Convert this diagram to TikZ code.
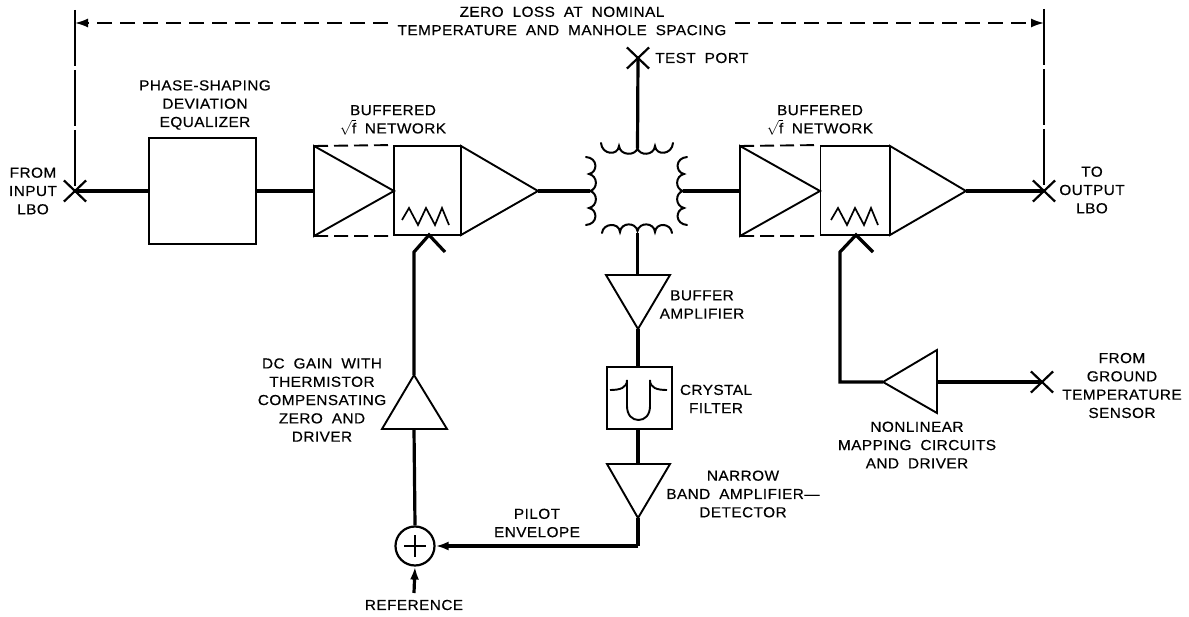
\documentclass[tikz,border=0pt]{standalone}
\usepackage{fontspec}
\setmainfont{Liberation Sans}[FakeStretch=1.06,LetterSpace=3,WordSpace=1.9,FakeBold=0.35]
\usetikzlibrary{arrows.meta,shapes.misc}
\tikzset{
  thinline/.style={line width=1.9pt,line join=miter},
  wire/.style={line width=3.2pt},
  dim/.style={line width=1.8pt,dash pattern=on 15pt off 8pt},
  ext/.style={line width=1.8pt,dash pattern=on 56pt off 4pt},
  blockbox/.style={draw,line width=1.9pt,rectangle,inner sep=0pt},
  xport/.style={draw,cross out,line width=2.2pt,minimum width=20pt,minimum height=19pt,inner sep=0pt},
  lbl/.style={font=\fontsize{14.5}{18.3}\selectfont,align=center,inner sep=0pt},
  tip/.style={-{Latex[length=13pt,width=9pt]}},
  coil/.style={line width=2pt,line cap=round}
}
\newcommand{\ampl}[3]{\draw[thinline] (#1) -- (#2) -- (#3) -- cycle;}
\newcommand{\zigzag}[2]{\draw[line width=1.7pt] (#1,#2) ++(0,-5) -- ++(7,-12) -- ++(9,17) -- ++(8,-17) -- ++(9,17) -- ++(7,-17) -- ++(7,17);}
\begin{document}
\begin{tikzpicture}[x=1pt,y=-1pt]
\useasboundingbox (0,0) rectangle (1189,617);
% ports
\node[xport] (xin) at (75,191) {};
\node[xport] (xout) at (1044,191) {};
\node[xport] (xtest) at (638,58) {};
\node[xport] (xtemp) at (1042,382) {};
% extension lines
\coordinate (extL) at (75,10);
\coordinate (extR) at (1044,9);
\coordinate (dimL) at (75,23);
\coordinate (dimR) at (1044,23);
\coordinate (dimLs) at (388,23);
\coordinate (dimRs) at (735,23);
\draw[ext] (extL) -- (xin.center);
\draw[ext] (extR) -- (xout.center);
\draw[dim,tip] (dimLs) -- (dimL);
\draw[dim,tip] (dimRs) -- (dimR);
% equalizer
\node[blockbox,minimum width=107pt,minimum height=106pt] (eq) at (202.5,191) {};
% left network
\coordinate (a1n) at (314,146); \coordinate (a1s) at (314,236); \coordinate (a1t) at (394,191);
\node[blockbox,minimum width=67pt,minimum height=89pt] (n1) at (427.5,190.5) {};
\coordinate (a2n) at (461,146); \coordinate (a2s) at (461,235); \coordinate (a2t) at (538,191);
\ampl{a1n}{a1s}{a1t}
\ampl{a2n}{a2t}{a2s}
\draw[thinline,dash pattern=on 14pt off 6pt] (a1n) -- (n1.north west);
\draw[thinline,dash pattern=on 14pt off 6pt] (a1s) -- (n1.south west);
\zigzag{402}{225}
% right network
\coordinate (a3n) at (740,146); \coordinate (a3s) at (740,236); \coordinate (a3t) at (820,191);
\node[blockbox,minimum width=69pt,minimum height=89pt] (n2) at (855,190.5) {};
\coordinate (a4n) at (890,146); \coordinate (a4s) at (890,235); \coordinate (a4t) at (966,191);
\ampl{a3n}{a3s}{a3t}
\ampl{a4n}{a4t}{a4s}
\draw[thinline,dash pattern=on 14pt off 6pt] (a3n) -- (n2.north west);
\draw[thinline,dash pattern=on 14pt off 6pt] (a3s) -- (n2.south west);
\zigzag{831}{225}
% main wires
\coordinate (cw) at (590,191); \coordinate (ce) at (683,191);
\coordinate (cn) at (637.5,148); \coordinate (cs) at (637.5,233);
\coordinate (a1w) at (314,191); \coordinate (a3w) at (740,191);
\draw[wire] (xin.center) -- (eq.west);
\draw[wire] (eq.east) -- (a1w);
\draw[wire] (a2t) -- (cw);
\draw[wire] (ce) -- (a3w);
\draw[wire] (a4t) -- (xout.center);
\draw[wire] (xtest.center) -- (cn);
% hybrid coils
\draw[coil]
  (601,143) .. controls (602,155) and (618,156) .. (619,146)
  .. controls (620,156) and (636,156) .. (637.5,148)
  .. controls (639,156) and (654,156) .. (655,146)
  .. controls (656,156) and (672,155) .. (673,143);
\draw[coil]
  (602,233) .. controls (603,223) and (619,222) .. (620,232)
  .. controls (621,222) and (636,222) .. (637.5,231)
  .. controls (639,222) and (654,222) .. (655,232)
  .. controls (656,222) and (671,223) .. (672,233);
\draw[coil]
  (586,157) .. controls (598,158) and (598,172) .. (589,174)
  .. controls (598,176) and (598,189) .. (590,191)
  .. controls (598,193) and (598,206) .. (589,208)
  .. controls (598,210) and (598,224) .. (586,225);
\draw[coil]
  (687,157) .. controls (675,158) and (675,172) .. (684,174)
  .. controls (675,176) and (675,189) .. (683,191)
  .. controls (675,193) and (675,206) .. (684,208)
  .. controls (675,210) and (675,224) .. (687,225);
% center chain
\coordinate (bn) at (637.5,275);
\coordinate (bl) at (606,275); \coordinate (br) at (670,275); \coordinate (bt) at (638,329);
\ampl{bl}{br}{bt}
\node[blockbox,minimum width=65pt,minimum height=62pt] (xf) at (639.5,398) {};
\coordinate (nn) at (638,464);
\coordinate (nl) at (607,464); \coordinate (nr) at (670,464); \coordinate (nt) at (638,518);
\ampl{nl}{nr}{nt}
\draw[wire] (cs) -- (bn);
\draw[wire] (bt) -- (bt |- xf.north);
\draw[wire] (bt |- xf.south) -- (nn);
\draw[line width=1.9pt]
  (610,390) .. controls (620,390) and (627,388) .. (627,380)
  -- (627,406) .. controls (627,415) and (632,420) .. (638.5,420)
  .. controls (645,420) and (650,415) .. (650,406) -- (650,380)
  .. controls (650,388) and (657,390) .. (667,390);
% summing junction and loop
\node[draw,circle,line width=2.2pt,minimum size=39pt,inner sep=0pt] (sum) at (415,546) {};
\draw[line width=1.6pt] (sum.center) ++(-11,0) -- ++(22,0);
\draw[line width=1.6pt] (sum.center) ++(0,-11) -- ++(0,22);
\coordinate (corner) at (638,546);
\coordinate (refin) at (414,593);
\draw[wire] (nt) -- (corner);
\draw[wire,tip] (corner) -- (sum.east);
\draw[wire,tip] (refin) -- (sum.south);
\coordinate (dcl) at (382,429); \coordinate (dcr) at (447,429); \coordinate (dct) at (414,375);
\ampl{dcl}{dcr}{dct}
\coordinate (dcb) at (414,429);
\coordinate (ch1) at (414,252); \coordinate (ch1t) at (429,235); \coordinate (ch1r) at (445,252);
\draw[wire] (sum.north) -- (dcb);
\draw[wire] (dct) -- (ch1) -- (ch1t) -- (ch1r);
% temperature branch
\coordinate (tt) at (883,382); \coordinate (tn) at (937,350); \coordinate (ts) at (937,413); \coordinate (tb) at (937,382);
\ampl{tt}{tn}{ts}
\coordinate (ch2) at (840,252); \coordinate (ch2t) at (856,235); \coordinate (ch2r) at (873,252); \coordinate (ch2c) at (840,382);
\draw[wire,line join=miter] (ch2r) -- (ch2t) -- (ch2) -- (ch2c) -- (tt);
\draw[wire] (tb) -- (xtemp.center);
% labels
\node[lbl] (t1) at (562,21) {ZERO LOSS AT NOMINAL\\TEMPERATURE AND MANHOLE SPACING};
\node[lbl] (t2) at (205,105) {PHASE-SHAPING\\DEVIATION\\EQUALIZER};
\node[lbl] (t3) at (33,191) {FROM\\INPUT\\LBO};
\node[lbl] (t4) at (1092,190) {TO\\OUTPUT\\LBO};
\node[lbl] (t5) at (393,120) {BUFFERED\\\(\sqrt{\mathrm{f}}\)\ NETWORK};
\node[lbl] (t6) at (820,120) {BUFFERED\\\(\sqrt{\mathrm{f}}\)\ NETWORK};
\node[lbl,anchor=west] (t7) at (655,58) {TEST PORT};
\node[lbl] (t8) at (702,304.5) {BUFFER\\AMPLIFIER};
\node[lbl] (t9) at (716,399) {CRYSTAL\\FILTER};
\node[lbl] (t10) at (743,494) {NARROW\\BAND AMPLIFIER---\\DETECTOR};
\node[lbl] (t11) at (537,523) {PILOT\\ENVELOPE};
\node[lbl] (t12) at (414,605) {REFERENCE};
\node[lbl] (t13) at (322,400) {DC GAIN WITH\\THERMISTOR\\COMPENSATING\\ZERO AND\\DRIVER};
\node[lbl] (t14) at (917,445) {NONLINEAR\\MAPPING CIRCUITS\\AND DRIVER};
\node[lbl] (t15) at (1122,385.5) {FROM\\GROUND\\TEMPERATURE\\SENSOR};
\end{tikzpicture}
\end{document}
